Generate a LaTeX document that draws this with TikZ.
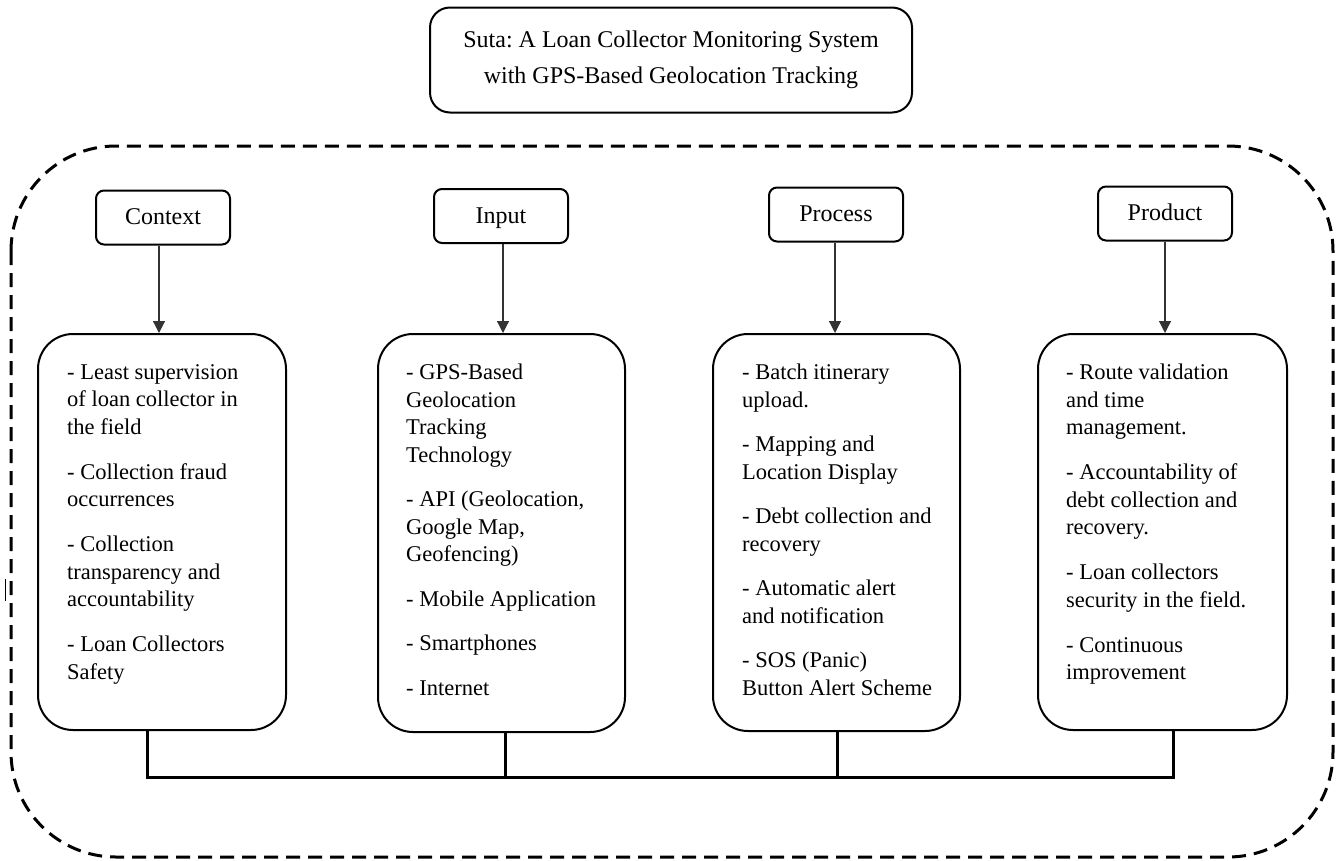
\documentclass[tikz,border=0pt]{standalone}
\usepackage{fontspec}
\setmainfont{Liberation Serif}
\usetikzlibrary{arrows.meta}
\frenchspacing
\begin{document}
\begin{tikzpicture}[x=1pt,y=-1pt,
  titlebox/.style={draw,line width=2pt,rounded corners=20pt,minimum width=482pt,minimum height=105pt,align=center,inner sep=0pt,font=\fontsize{24}{36}\selectfont},
  hdr/.style={draw,line width=2pt,rounded corners=8pt,minimum width=134pt,minimum height=54pt,inner sep=0pt,text height=17pt,text depth=3pt,font=\fontsize{24}{28}\selectfont},
  cbox/.style={draw,line width=2pt,rounded corners=35pt,inner sep=0pt},
  txt/.style={anchor=north west,align=left,inner sep=0pt,font=\fontsize{22.5}{27.5}\selectfont},
  arr/.style={draw=black!80,line width=1.2pt,-{Triangle[length=12pt,width=12pt]}},
  bus/.style={line width=3pt,line join=miter},
  frame/.style={line width=3pt,dash pattern=on 14pt off 8pt,rounded corners=105pt}
]
\useasboundingbox (0,0) rectangle (1341,860);

% outer dashed frame
\draw[frame] (11,146) rectangle (1333,857);

% title
\node[titlebox] (title) at (671,60) {Suta: A Loan Collector Monitoring System\\with GPS-Based Geolocation Tracking};

% headers
\node[hdr] (h1) at (163,217.5) {Context};
\node[hdr] (h2) at (501,216) {Input};
\node[hdr] (h3) at (836,214.5) {Process};
\node[hdr] (h4) at (1165,213.5) {Product};

% content boxes
\node[cbox,minimum width=248pt,minimum height=396pt] (b1) at (162,532) {};
\node[cbox,minimum width=247pt,minimum height=398pt] (b2) at (501.5,533) {};
\node[cbox,minimum width=247pt,minimum height=397pt] (b3) at (836.5,532.5) {};
\node[cbox,minimum width=249pt,minimum height=396pt] (b4) at (1162.5,532) {};

% texts
\node[txt] (t1) at (67,364) {- Least supervision\\of loan collector in\\the field\\[17.5pt]- Collection fraud\\occurrences\\[17.5pt]- Collection\\transparency and\\accountability\\[17.5pt]- Loan Collectors\\Safety};
\node[txt] (t2) at (406,364) {- GPS-Based\\Geolocation\\Tracking\\Technology\\[17pt]- API (Geolocation,\\Google Map,\\Geofencing)\\[17pt]- Mobile Application\\[17pt]- Smartphones\\[17pt]- Internet};
\node[txt] (t3) at (742,364) {- Batch itinerary\\upload.\\[17pt]- Mapping and\\Location Display\\[17pt]- Debt collection and\\recovery\\[17pt]- Automatic alert\\and notification\\[17pt]- SOS (Panic)\\Button Alert Scheme};
\node[txt] (t4) at (1066,364) {- Route validation\\and time\\management.\\[17.5pt]- Accountability of\\debt collection and\\recovery.\\[17.5pt]- Loan collectors\\security in the field.\\[17.5pt]- Continuous\\improvement};

% arrows
\coordinate (a1) at (159,0);
\coordinate (a2) at (503,0);
\coordinate (a3) at (835,0);
\coordinate (a4) at (1165,0);
\draw[arr] (h1.south -| a1) -- (b1.north -| a1);
\draw[arr] (h2.south -| a2) -- (b2.north -| a2);
\draw[arr] (h3.south -| a3) -- (b3.north -| a3);
\draw[arr] (h4.south -| a4) -- (b4.north -| a4);

% bottom bus
\coordinate (c1) at (147,777);
\coordinate (c2) at (505,777);
\coordinate (c3) at (837,777);
\coordinate (c4) at (1173,777);
\draw[bus] (b1.south -| c1) -- (c1) -- (c4) -- (b4.south -| c4);
\draw[bus] (b2.south -| c2) -- (c2);
\draw[bus] (b3.south -| c3) -- (c3);

% small stray mark at left
\coordinate (m1) at (5,579);
\coordinate (m2) at (5,601);
\draw[line width=0.8pt] (m1) -- (m2);
\end{tikzpicture}
\end{document}
